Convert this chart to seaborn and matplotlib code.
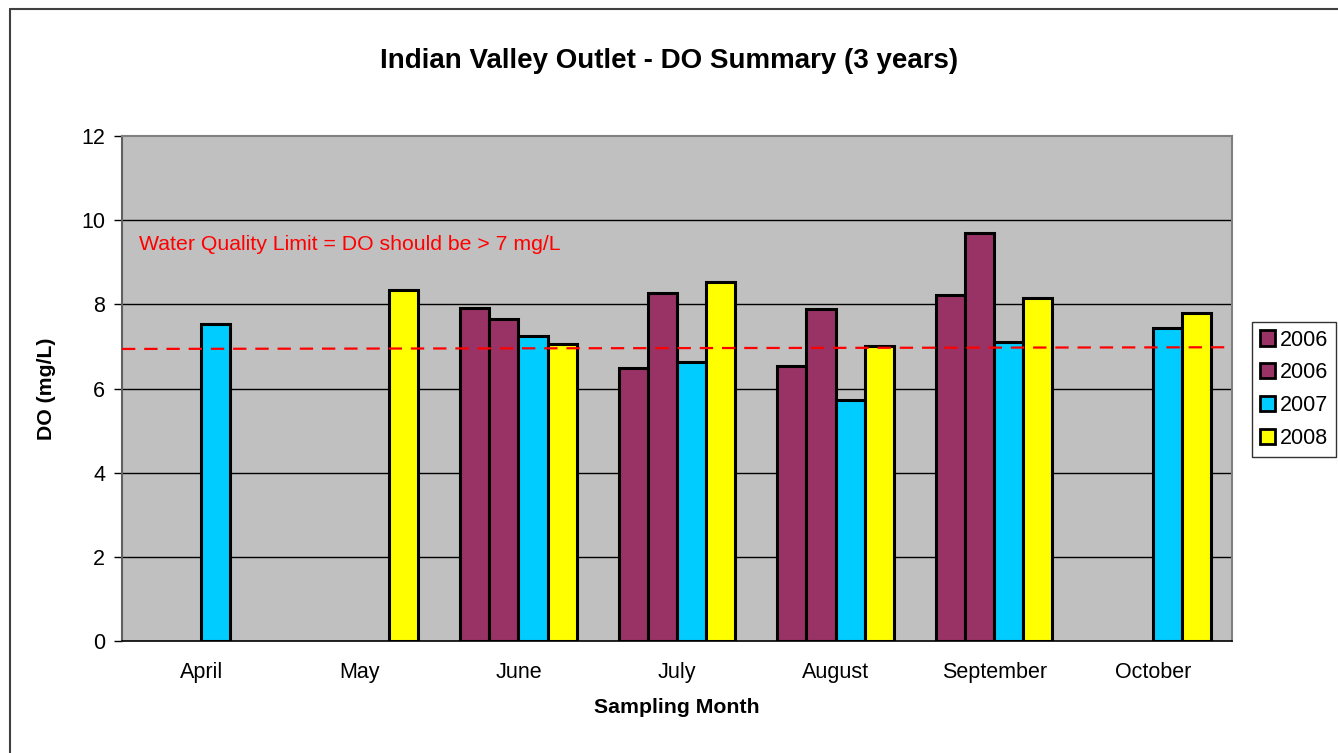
import matplotlib
matplotlib.use("Agg")
import matplotlib.pyplot as plt
import seaborn as sns
import pandas as pd
import numpy as np
from matplotlib.lines import Line2D

months = ["April", "May", "June", "July", "August", "September", "October"]
series_keys = ["2006a", "2006b", "2007", "2008"]
series_labels = ["2006", "2006", "2007", "2008"]
do_2006a = [np.nan, np.nan, 7.91, 6.49, 6.54, 8.22, np.nan]
do_2006b = [np.nan, np.nan, 7.65, 8.27, 7.89, 9.70, np.nan]
do_2007 = [7.53, np.nan, 7.25, 6.63, 5.73, 7.11, 7.44]
do_2008 = [np.nan, 8.34, 7.06, 8.53, 7.01, 8.15, 7.79]
limit_left, limit_right = 6.94, 6.98
colors = ["#993366", "#993366", "#00CCFF", "#FFFF00"]

rows = []
for key, vals in zip(series_keys, [do_2006a, do_2006b, do_2007, do_2008]):
    for m, v in zip(months, vals):
        rows.append({"Month": m, "Series": key, "DO": v})
df = pd.DataFrame(rows)

sns.set_theme(style="white")
plt.rcParams["font.family"] = ["Liberation Sans", "DejaVu Sans"]
plt.rcParams["text.color"] = "black"
plt.rcParams["axes.labelcolor"] = "black"
plt.rcParams["xtick.color"] = "black"
plt.rcParams["ytick.color"] = "black"

fig = plt.figure(figsize=(13.38, 7.53), dpi=100)
ax = fig.add_axes([122/1338, 1-641/753, (1232-122)/1338, (641-136)/753])
ax.set_facecolor("#C0C0C0")

sns.barplot(data=df, x="Month", y="DO", hue="Series", order=months,
            hue_order=series_keys, palette=colors, saturation=1, width=0.735,
            edgecolor="black", linewidth=2.2, ax=ax, legend=False,
            errorbar=None, zorder=3)

ax.set_xlim(-0.5, len(months) - 0.5)
ax.set_ylim(0, 12)
ax.set_yticks(range(0, 13, 2))
for y in range(2, 12, 2):
    ax.axhline(y, color="black", linewidth=1, zorder=1)

ax.plot([-0.5, len(months) - 0.5], [limit_left, limit_right], color="#FF0000",
        linestyle=(0, (6, 4)), linewidth=1.6, zorder=4)
ax.text(-0.39, 9.41, "Water Quality Limit = DO should be > 7 mg/L", color="#FF0000",
        fontsize=15.3, va="center", ha="left", zorder=5)

# ticks
ax.set_xticks(np.arange(len(months)))
ax.set_xticklabels(months, fontsize=15.5)
ax.set_xticks(np.arange(-0.5, len(months), 1), minor=True)
ax.tick_params(axis="x", which="major", length=0, pad=15)
ax.tick_params(axis="x", which="minor", length=6, width=1, color="black", direction="out")
ax.tick_params(axis="y", which="major", length=6, width=1, color="black", direction="out",
               labelsize=15.5, pad=6, left=True)
ax.set_xlabel("Sampling Month", fontsize=15.3, fontweight="bold", labelpad=11)
ax.set_ylabel("DO (mg/L)", fontsize=15.3, fontweight="bold", labelpad=18)

for s in ["top", "right"]:
    ax.spines[s].set_color("#808080")
    ax.spines[s].set_linewidth(1.5)
ax.spines["left"].set_color("#606060")
ax.spines["left"].set_linewidth(1.5)
ax.spines["bottom"].set_color("black")
ax.spines["bottom"].set_linewidth(1.2)

fig.suptitle("Indian Valley Outlet - DO Summary (3 years)", fontsize=20, fontweight="bold",
             y=1-61/753, va="center")

handles = [plt.Rectangle((0, 0), 1, 1, facecolor=c, edgecolor="black", linewidth=2)
           for c in colors]
leg = fig.legend(handles, series_labels, loc="upper left",
                 bbox_to_anchor=(1252/1338, 1-322/753), fontsize=15.5,
                 frameon=True, fancybox=False, edgecolor="black",
                 handlelength=0.7, handleheight=0.7, handletextpad=0.25,
                 labelspacing=0.55, borderpad=0.35, borderaxespad=0)
leg.get_frame().set_linewidth(1)

# outer chart frame
fig.add_artist(Line2D([10/1338, 10/1338], [0, 1-9/753], transform=fig.transFigure,
                      color="#404040", linewidth=1.5))
fig.add_artist(Line2D([10/1338, 1], [1-9/753, 1-9/753], transform=fig.transFigure,
                      color="#404040", linewidth=1.5))

fig.savefig("out.png", dpi=100)
